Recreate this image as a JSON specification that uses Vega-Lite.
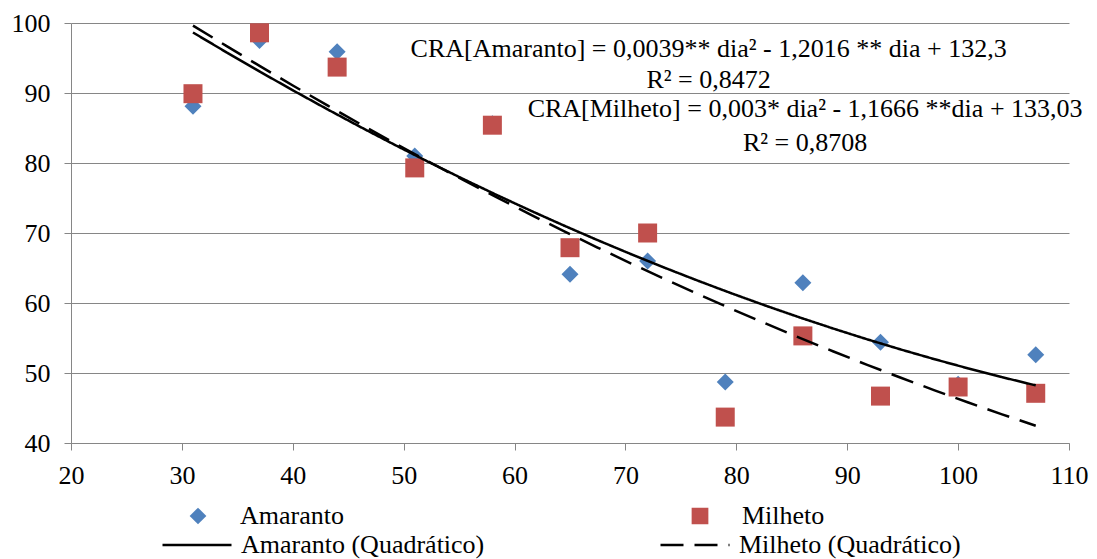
{
  "$schema": "https://vega.github.io/schema/vega-lite/v6.json",
  "width": 998,
  "height": 420,
  "autosize": "none",
  "padding": {"left": 71, "top": 23, "right": 28, "bottom": 116},
  "background": "white",
  "config": {
    "view": {"stroke": null},
    "font": "Liberation Serif",
    "axis": {
      "title": null,
      "labelFont": "Liberation Serif",
      "labelFontSize": 26,
      "labelColor": "#000000",
      "labelFlush": false,
      "labelOverlap": false,
      "domainColor": "#868686",
      "tickColor": "#868686",
      "tickSize": 7,
      "gridColor": "#868686",
      "gridWidth": 1
    },
    "legend": {
      "labelFont": "Liberation Serif",
      "labelFontSize": 26,
      "labelColor": "#000000",
      "labelLimit": 400,
      "rowPadding": 0
    }
  },
  "data": {
    "values": [
      {"dia": 31, "serie": "Amaranto", "ajuste": "Amaranto (Quadrático)", "cra": 88.1},
      {"dia": 37, "serie": "Amaranto", "ajuste": "Amaranto (Quadrático)", "cra": 97.5},
      {"dia": 44, "serie": "Amaranto", "ajuste": "Amaranto (Quadrático)", "cra": 95.9},
      {"dia": 51, "serie": "Amaranto", "ajuste": "Amaranto (Quadrático)", "cra": 81.0},
      {"dia": 58, "serie": "Amaranto", "ajuste": "Amaranto (Quadrático)", "cra": 85.6},
      {"dia": 65, "serie": "Amaranto", "ajuste": "Amaranto (Quadrático)", "cra": 64.1},
      {"dia": 72, "serie": "Amaranto", "ajuste": "Amaranto (Quadrático)", "cra": 66.0},
      {"dia": 79, "serie": "Amaranto", "ajuste": "Amaranto (Quadrático)", "cra": 48.7},
      {"dia": 86, "serie": "Amaranto", "ajuste": "Amaranto (Quadrático)", "cra": 62.9},
      {"dia": 93, "serie": "Amaranto", "ajuste": "Amaranto (Quadrático)", "cra": 54.4},
      {"dia": 100, "serie": "Amaranto", "ajuste": "Amaranto (Quadrático)", "cra": 48.4},
      {"dia": 107, "serie": "Amaranto", "ajuste": "Amaranto (Quadrático)", "cra": 52.6},
      {"dia": 31, "serie": "Milheto", "ajuste": "Milheto (Quadrático)", "cra": 89.9},
      {"dia": 37, "serie": "Milheto", "ajuste": "Milheto (Quadrático)", "cra": 98.6},
      {"dia": 44, "serie": "Milheto", "ajuste": "Milheto (Quadrático)", "cra": 93.7},
      {"dia": 51, "serie": "Milheto", "ajuste": "Milheto (Quadrático)", "cra": 79.3},
      {"dia": 58, "serie": "Milheto", "ajuste": "Milheto (Quadrático)", "cra": 85.4},
      {"dia": 65, "serie": "Milheto", "ajuste": "Milheto (Quadrático)", "cra": 67.9},
      {"dia": 72, "serie": "Milheto", "ajuste": "Milheto (Quadrático)", "cra": 70.0},
      {"dia": 79, "serie": "Milheto", "ajuste": "Milheto (Quadrático)", "cra": 43.7},
      {"dia": 86, "serie": "Milheto", "ajuste": "Milheto (Quadrático)", "cra": 55.3},
      {"dia": 93, "serie": "Milheto", "ajuste": "Milheto (Quadrático)", "cra": 46.7},
      {"dia": 100, "serie": "Milheto", "ajuste": "Milheto (Quadrático)", "cra": 48.0},
      {"dia": 107, "serie": "Milheto", "ajuste": "Milheto (Quadrático)", "cra": 47.1}
    ]
  },
  "layer": [
    {
      "transform": [{"filter": "datum.serie === 'Amaranto'"}],
      "mark": {"type": "point", "filled": true, "size": 289, "opacity": 1},
      "encoding": {
        "x": {
          "field": "dia", "type": "quantitative",
          "scale": {"domain": [20, 110], "nice": false, "zero": false},
          "axis": {
            "values": [20, 30, 40, 50, 60, 70, 80, 90, 100, 110], "grid": false,
            "labelPadding": 12, "labelFlush": false,
            "labelFont": "Liberation Serif", "labelFontSize": 26
          }
        },
        "y": {
          "field": "cra", "type": "quantitative",
          "scale": {"domain": [40, 100], "nice": false, "zero": false},
          "axis": {
            "values": [40, 50, 60, 70, 80, 90, 100], "grid": true,
            "labelPadding": 14, "labelFlush": false,
            "labelFont": "Liberation Serif", "labelFontSize": 26
          }
        },
        "color": {
          "field": "serie", "type": "nominal",
          "scale": {"domain": ["Amaranto", "Milheto"], "range": ["#4F81BD", "#C0504D"]},
          "legend": {
            "title": null, "orient": "none", "legendX": 114, "legendY": 478.5,
            "direction": "horizontal", "columns": 2, "columnPadding": 343,
            "clipHeight": 29, "symbolSize": 280, "labelOffset": 29
          }
        },
        "shape": {
          "field": "serie", "type": "nominal",
          "scale": {"domain": ["Amaranto", "Milheto"], "range": ["diamond", "square"]},
          "legend": {
            "title": null, "orient": "none", "legendX": 114, "legendY": 478.5,
            "direction": "horizontal", "columns": 2, "columnPadding": 343,
            "clipHeight": 29, "symbolSize": 280, "labelOffset": 29
          }
        }
      }
    },
    {
      "transform": [{"filter": "datum.serie === 'Milheto'"}],
      "mark": {"type": "point", "filled": true, "size": 361, "opacity": 1},
      "encoding": {
        "x": {"field": "dia", "type": "quantitative"},
        "y": {"field": "cra", "type": "quantitative"},
        "color": {"field": "serie", "type": "nominal"},
        "shape": {"field": "serie", "type": "nominal"}
      }
    },
    {
      "transform": [
        {"regression": "cra", "on": "dia", "method": "poly", "order": 2, "groupby": ["ajuste"]}
      ],
      "mark": {"type": "line", "strokeWidth": 2.5, "color": "#000000"},
      "encoding": {
        "x": {"field": "dia", "type": "quantitative"},
        "y": {"field": "cra", "type": "quantitative"},
        "strokeDash": {
          "field": "ajuste", "type": "nominal",
          "scale": {"domain": ["Amaranto (Quadrático)", "Milheto (Quadrático)"], "range": [[1, 0], [23, 11]]},
          "legend": {
            "title": null, "orient": "none", "legendX": 90, "legendY": 507.5,
            "direction": "horizontal", "columns": 2, "columnPadding": 174,
            "clipHeight": 29, "symbolType": "stroke", "symbolSize": 4761,
            "symbolStrokeColor": "#000000", "symbolStrokeWidth": 2.5, "labelOffset": 8
          }
        }
      }
    },
    {
      "data": {
        "values": [
          {"dia": 77.5, "cra": 96.3, "texto": "CRA[Amaranto]  = 0,0039** dia² - 1,2016 ** dia + 132,3"},
          {"dia": 77.5, "cra": 91.9, "texto": "R² = 0,8472"},
          {"dia": 86.2, "cra": 87.7, "texto": "CRA[Milheto] = 0,003* dia² - 1,1666 **dia + 133,03"},
          {"dia": 86.2, "cra": 82.9, "texto": "R² = 0,8708"}
        ]
      },
      "mark": {"type": "text", "font": "Liberation Serif", "fontSize": 26, "align": "center", "baseline": "middle", "color": "#000000"},
      "encoding": {
        "x": {"field": "dia", "type": "quantitative"},
        "y": {"field": "cra", "type": "quantitative"},
        "text": {"field": "texto"}
      }
    }
  ]
}
